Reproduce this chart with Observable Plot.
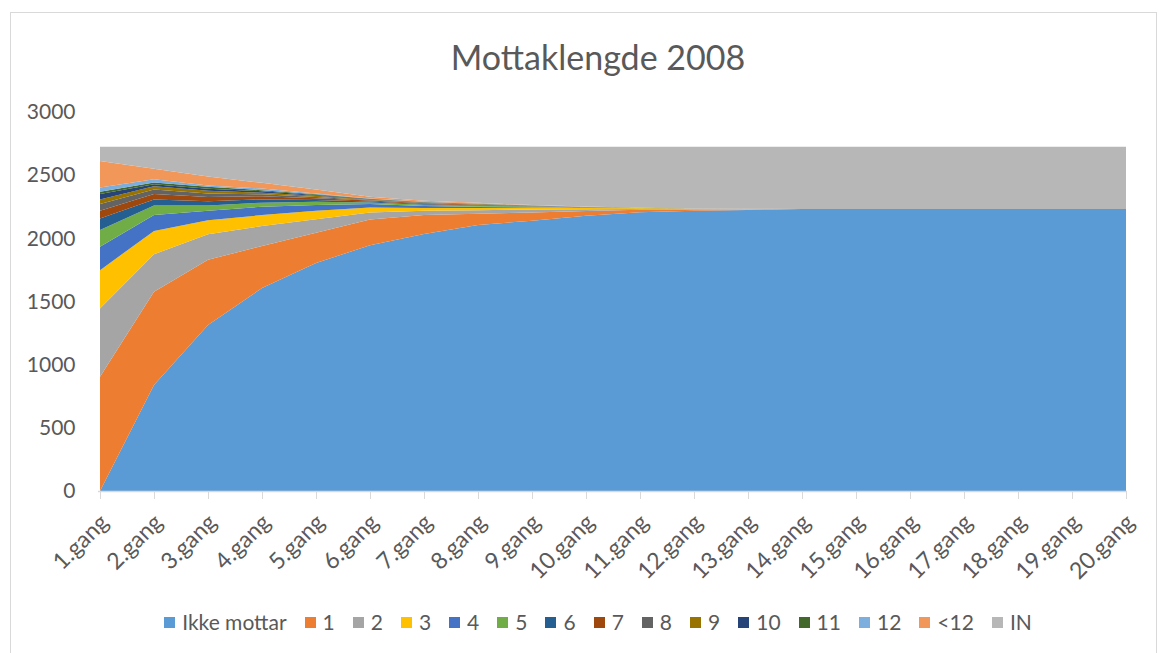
<!DOCTYPE html>
<html>
<head>
<meta charset="utf-8">
<script src="https://cdn.jsdelivr.net/npm/d3@7"></script>
<script src="https://cdn.jsdelivr.net/npm/@observablehq/plot@0.6"></script>
<style>
  html, body { margin: 0; padding: 0; background: #fff; overflow: hidden; }
  body { width: 1162px; height: 653px; position: relative; font-family: Lato, "Open Sans", sans-serif; }
  #frame { position: absolute; left: 10px; top: 12px; width: 1147px; height: 650px; border: 1px solid #d9d9d9; box-sizing: border-box; }
  #title { position: absolute; left: 34px; width: 1128px; top: 34px; text-align: center; font-size: 34px; color: #595959; line-height: 46px; }
  #chart { position: absolute; left: 0; top: 90px; }
  #legend { position: absolute; left: 34px; width: 1128px; top: 608px; display: flex; justify-content: center; align-items: center; font-size: 21px; color: #595959; line-height: 28px; }
  .item { display: flex; align-items: center; margin: 0 9px; }
  .sw { width: 11px; height: 11px; margin-right: 7px; }
</style>
</head>
<body>
<div id="frame"></div>
<div id="title">Mottaklengde 2008</div>
<div id="chart"></div>
<div id="legend"></div>
<script>
const gangLabels = ["1.gang","2.gang","3.gang","4.gang","5.gang","6.gang","7.gang","8.gang","9.gang","10.gang","11.gang","12.gang","13.gang","14.gang","15.gang","16.gang","17.gang","18.gang","19.gang","20.gang"];
const seriesNames = ["Ikke mottar","1","2","3","4","5","6","7","8","9","10","11","12","<12","IN"];
const seriesColors = ["#5B9BD5","#ED7D31","#A5A5A5","#FFC000","#4472C4","#70AD47","#255E91","#9E480E","#636363","#997300","#264478","#43682B","#7CAFDD","#F1975A","#B7B7B7"];
const yTicks = [0, 500, 1000, 1500, 2000, 2500, 3000];

const ikkeMottar = [0,839,1313,1606,1804,1946,2035,2106,2140,2178,2206,2218,2225,2232,2232,2232,2232,2232,2232,2232];
const s1  = [905,738,517,334,241,204,149,89,65,38,20,10,4,0,0,0,0,0,0,0];
const s2  = [540,298,203,157,107,55,34,27,24,15,7,4,2,0,0,0,0,0,0,0];
const s3  = [303,184,111,87,66,40,23,18,15,9,5,3,1,0,0,0,0,0,0,0];
const s4  = [185,125,74,66,45,26,15,10,4,3,1,1,0,0,0,0,0,0,0,0];
const s5  = [132,76,42,32,26,12,9,6,3,2,1,0,0,0,0,0,0,0,0,0];
const s6  = [92,48,34,26,14,8,6,4,2,1,0,0,0,0,0,0,0,0,0,0];
const s7  = [61,42,34,26,14,8,6,5,2,1,1,1,2,0,0,0,0,0,0,0];
const s8  = [53,37,27,15,11,5,4,3,2,1,0,0,0,0,0,0,0,0,0,0];
const s9  = [37,26,21,12,9,4,3,3,1,1,1,0,0,0,0,0,0,0,0,0];
const s10 = [42,16,16,12,6,3,2,2,1,0,0,0,0,0,0,0,0,0,0,0];
const s11 = [18,13,16,8,5,2,2,1,1,0,0,0,0,0,0,0,0,0,0,0];
const s12 = [35,26,11,13,6,3,2,2,1,1,0,0,0,0,0,0,0,0,0,0];
const lt12 = [210,82,71,45,33,13,7,5,2,1,0,0,0,0,0,0,0,0,0,0];
const inn = [111,174,234,285,337,395,427,443,461,473,482,487,490,492,492,492,492,492,492,492];

const seriesValues = [ikkeMottar, s1, s2, s3, s4, s5, s6, s7, s8, s9, s10, s11, s12, lt12, inn];
const data = [];
seriesNames.forEach((name, si) => {
  gangLabels.forEach((g, gi) => data.push({series: name, gang: g, value: seriesValues[si][gi]}));
});

const chart = Plot.plot({
  width: 1162,
  height: 510,
  marginLeft: 98,
  marginRight: 35,
  marginTop: 22,
  marginBottom: 109,
  style: {fontFamily: "Lato, 'Open Sans', sans-serif", fontSize: "21px", color: "#595959", background: "transparent", overflow: "visible"},
  x: {type: "point", domain: gangLabels, padding: 0, label: null},
  y: {domain: [0, 3000], label: null},
  color: {domain: seriesNames, range: seriesColors},
  marks: [
    Plot.areaY(data, {x: "gang", y: "value", z: "series", fill: "series", order: seriesNames, curve: "linear"}),
    Plot.ruleY([0], {stroke: "#d9d9d9", strokeWidth: 1.5}),
    Plot.axisX({text: null, tickSize: 8, stroke: "#d9d9d9", strokeOpacity: 1}),
    Plot.axisX({tickSize: 0, tickPadding: 27, tickRotate: -45, fill: "#595959", fontSize: 23, dx: 4}),
    Plot.axisY(yTicks, {tickSize: 0, tickPadding: 23, tickFormat: d => String(d), fill: "#595959", fontSize: 21})
  ]
});
document.getElementById("chart").appendChild(chart);

const legend = document.getElementById("legend");
seriesNames.forEach((name, i) => {
  const item = document.createElement("div");
  item.className = "item";
  const sw = document.createElement("div");
  sw.className = "sw";
  sw.style.background = seriesColors[i];
  const t = document.createElement("span");
  t.textContent = name;
  item.appendChild(sw);
  item.appendChild(t);
  legend.appendChild(item);
});
</script>
</body>
</html>
